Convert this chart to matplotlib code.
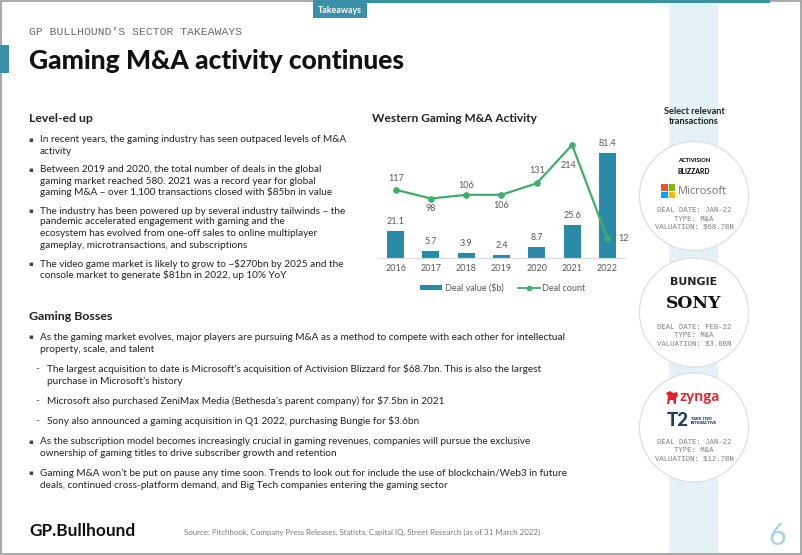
import matplotlib
matplotlib.use('Agg')
import matplotlib.pyplot as plt
from matplotlib.patches import Rectangle, Circle, Patch, Polygon
from matplotlib.lines import Line2D

# ---------------- data ----------------
years = ['2016', '2017', '2018', '2019', '2020', '2021', '2022']
deal_value = [21.1, 5.7, 3.9, 2.4, 8.7, 25.6, 81.4]
deal_count = [117, 98, 106, 106, 131, 214, 12]
series_names = ['Deal value ($b)', 'Deal count']

deal_dates = ['JAN-22', 'FEB-22', 'JAN-22']
deal_types = ['M&A', 'M&A', 'M&A']
deal_valuations = ['$68.7BN', '$3.6BN', '$12.7BN']

levelup_lines = [
    ('b', 'In recent years, the gaming industry has seen outpaced levels of M&A'),
    ('c', 'activity'),
    ('b', 'Between 2019 and 2020, the total number of deals in the global'),
    ('c', 'gaming market reached 580. 2021 was a record year for global'),
    ('c', 'gaming M&A \u2013 over 1,100 transactions closed with $85bn in value'),
    ('b', 'The industry has been powered up by several industry tailwinds \u2013 the'),
    ('c', 'pandemic accelerated engagement with gaming and the'),
    ('c', 'ecosystem has evolved from one-off sales to online multiplayer'),
    ('c', 'gameplay, microtransactions, and subscriptions'),
    ('b', 'The video game market is likely to grow to ~$270bn by 2025 and the'),
    ('c', 'console market to generate $81bn in 2022, up 10% YoY'),
]
levelup_y = [140, 151, 170, 181, 192, 211, 222, 233, 245, 264, 275]

bosses_lines = [
    ('b', 'As the gaming market evolves, major players are pursuing M&A as a method to compete with each other for intellectual'),
    ('c', 'property, scale, and talent'),
    ('s', 'The largest acquisition to date is Microsoft\u2019s acquisition of Activision Blizzard for $68.7bn. This is also the largest'),
    ('sc', 'purchase in Microsoft\u2019s history'),
    ('s', 'Microsoft also purchased ZeniMax Media (Bethesda\u2019s parent company) for $7.5bn in 2021'),
    ('s', 'Sony also announced a gaming acquisition in Q1 2022, purchasing Bungie for $3.6bn'),
    ('b', 'As the subscription model becomes increasingly crucial in gaming revenues, companies will pursue the exclusive'),
    ('c', 'ownership of gaming titles to drive subscriber growth and retention'),
    ('b', 'Gaming M&A won\u2019t be put on pause any time soon. Trends to look out for include the use of blockchain/Web3 in future'),
    ('c', 'deals, continued cross-platform demand, and Big Tech companies entering the gaming sector'),
]
bosses_y = [337, 349, 369, 381, 401, 421, 442, 454, 473, 485]

# ---------------- styles ----------------
W, H = 802, 555
TEAL = '#2b8aa7'
TAB = '#3a8fa9'
GREEN = '#3fae6c'
STRIP = '#e4f1f6'
TXT = '#222222'
GRAY = '#595959'
FONT = 'Lato'

fig = plt.figure(figsize=(W / 100, H / 100), dpi=100)
bg = fig.add_axes([0, 0, 1, 1])
bg.set_xlim(0, W)
bg.set_ylim(H, 0)
bg.axis('off')
renderer = fig.canvas.get_renderer()


def fit(t, width):
    bb = t.get_window_extent(renderer)
    t.set_fontsize(t.get_fontsize() * width / bb.width)
    return t.get_fontsize()


# frame / decorations
bg.add_patch(Rectangle((669, 0), 49, H, facecolor=STRIP, edgecolor='none', zorder=0))
bg.add_patch(Rectangle((0.8, 0.8), W - 1.6, H - 1.6, facecolor='none', edgecolor='#9a9a9a', lw=1.2, zorder=5))
bg.add_patch(Rectangle((313, 0), 457, 3, facecolor=TAB, edgecolor='none', zorder=6))
bg.add_patch(Rectangle((313, 0), 54, 18, facecolor=TAB, edgecolor='none', zorder=6))
t = bg.text(340, 10.5, 'Takeaways', color='white', fontsize=6.5, fontweight='bold',
            family=FONT, ha='center', va='center', zorder=7)
fit(t, 44)
bg.add_patch(Rectangle((0, 45), 9, 28, facecolor=TAB, edgecolor='none', zorder=6))

t = bg.text(29, 32, 'GP BULLHOUND\u2019S SECTOR TAKEAWAYS', family=['Liberation Mono', 'DejaVu Sans Mono'],
            color='#6b6b6b', fontsize=8, ha='left', va='center')
fit(t, 210)
t = bg.text(29, 61, 'Gaming M&A activity continues', family=FONT, fontweight='black',
            color='#111111', fontsize=20, ha='left', va='center')
fit(t, 376)

# left text blocks
t = bg.text(29, 118, 'Level-ed up', family=FONT, fontweight='bold', color=TXT, fontsize=9,
            ha='left', va='center')
fit(t, 64)
t = bg.text(29, 317, 'Gaming Bosses', family=FONT, fontweight='bold', color=TXT, fontsize=9,
            ha='left', va='center')
fit(t, 83)

probe = bg.text(40, 0, levelup_lines[0][1], family=FONT, fontsize=7)
fs1 = fit(probe, 312)
probe.remove()
probe = bg.text(40, 0, bosses_lines[0][1], family=FONT, fontsize=7)
fs2 = fit(probe, 508)
probe.remove()
fs_body = (fs1 + fs2) / 2


def draw_block(lines, ys, fs):
    for (kind, s), y in zip(lines, ys):
        if kind == 'b':
            bg.text(31, y, '\u25aa', family='DejaVu Sans', fontsize=fs * 0.7, color='#444444',
                    ha='center', va='center')
        if kind == 's':
            bg.text(37, y, '-', family=FONT, fontsize=fs, color='#444444', ha='center', va='center')
        x = 47 if kind in ('s', 'sc') else 40
        bg.text(x, y, s, family=FONT, fontsize=fs, color=TXT, ha='left', va='center')


draw_block(levelup_lines, levelup_y, fs_body)
draw_block(bosses_lines, bosses_y, fs_body)

# footer
t = bg.text(29, 531, 'GP.Bullhound', family=FONT, fontweight='bold', color='#111111', fontsize=11,
            ha='left', va='center')
fit(t, 106)
t = bg.text(184, 532, 'Source: Pitchbook, Company Press Releases, Statista, Capital IQ, Street Research (as of 31 March 2022)',
            family=FONT, color='#7a7a7a', fontsize=5, ha='left', va='center')
fit(t, 363)
bg.text(777, 536, '6', family=FONT, color='#a9d3e3', fontsize=22, ha='center', va='center', zorder=1)

# ---------------- right panel ----------------
t = bg.text(694, 111, 'Select relevant', family=FONT, fontweight='bold', color=TXT, fontsize=6.5,
            ha='center', va='center')
fit(t, 60)
t.set_zorder(3)
bg.text(694, 121, 'transactions', family=FONT, fontweight='bold', color=TXT, fontsize=t.get_fontsize(),
        ha='center', va='center', zorder=3)

centers = [196, 312.5, 427.5]
for cy in centers:
    bg.add_patch(Circle((694, cy), 54.5, facecolor='white', edgecolor='#dcdcdc', lw=0.8, zorder=2))

MONO = ['Liberation Mono', 'DejaVu Sans Mono']
for cy, d, ty, v in zip(centers, deal_dates, deal_types, deal_valuations):
    base = cy + 15
    for k, s in enumerate(['DEAL DATE: ' + d, 'TYPE: ' + ty, 'VALUATION: ' + v]):
        bg.text(694, base + 8.2 * k, s, family=MONO, fontsize=5.3, color='#808080',
                ha='center', va='center', zorder=3)

# logo 1: Activision Blizzard + Microsoft
t = bg.text(694, 161, 'ACTIVISION', family=FONT, fontweight='black', color='#111111',
            fontsize=5, ha='center', va='center', zorder=3)
fit(t, 33)
t = bg.text(694, 171, 'BLIZZARD', family=FONT, fontweight='black', color='#111111',
            fontsize=7, ha='center', va='center', zorder=3)
fit(t, 33)
for (dx, dy, c) in [(0, 0, '#f25022'), (7.5, 0, '#7fba00'), (0, 7.5, '#00a4ef'), (7.5, 7.5, '#ffb900')]:
    bg.add_patch(Rectangle((661 + dx, 184 + dy), 6.8, 6.8, facecolor=c, edgecolor='none', zorder=3))
t = bg.text(678, 191.5, 'Microsoft', family=['Open Sans', FONT], color='#737373', fontsize=9,
            ha='left', va='center', zorder=3)
fit(t, 49)

# logo 2: Bungie + Sony
t = bg.text(694, 282, 'BUNGIE', family='DejaVu Sans', fontweight='bold', color='#222222', fontsize=8,
            ha='center', va='center', zorder=3)
fit(t, 47)
t = bg.text(694, 304, 'SONY', family=['DejaVu Serif', 'Liberation Serif'], fontweight='bold',
            color='#111111', fontsize=12, ha='center', va='center', zorder=3)
fit(t, 55)

# logo 3: Zynga + Take-Two
bg.add_patch(Polygon([(667, 404), (668, 396), (666, 393), (670, 391), (673, 393), (677, 392),
                      (678, 396), (676, 398), (676, 404), (674, 404), (673, 400), (670, 400),
                      (669, 404)], closed=True, facecolor='#e1232e', edgecolor='none', zorder=3))
t = bg.text(680, 397, 'zynga', family=FONT, fontweight='bold', color='#e1232e', fontsize=10,
            ha='left', va='center', zorder=3)
fit(t, 40)
t = bg.text(667, 421, 'T2', family=FONT, fontweight='black', color='#1d3b6e', fontsize=14,
            ha='left', va='center', zorder=3)
fit(t, 22)
bg.text(691, 418.5, 'TAKE TWO', family='DejaVu Sans', fontweight='bold', color='#1d3b6e',
        fontsize=2.6, ha='left', va='center', zorder=3)
bg.text(691, 423, 'INTERACTIVE', family='DejaVu Sans', fontweight='bold', color='#1d3b6e',
        fontsize=2.6, ha='left', va='center', zorder=3)

# ---------------- chart ----------------
t = bg.text(372, 119, 'Western Gaming M&A Activity', family=FONT, fontweight='bold', color=TXT,
            fontsize=8.5, ha='left', va='center')
fit(t, 164)

base_y, top_y = 258, 133
ax = fig.add_axes([378 / W, (H - base_y) / H, 247 / W, (base_y - top_y) / H])
ax.patch.set_alpha(0)
x = list(range(len(years)))
ax.bar(x, deal_value, width=0.48, color=TEAL, zorder=2)
plot_h = base_y - top_y
ax.set_ylim(0, plot_h / 1.29)
ax.set_xlim(-0.5, 6.5)
ax.set_xticks(x)
ax.set_xticklabels(years, family=FONT, fontsize=6.5, color=GRAY)
ax.tick_params(axis='x', length=0, pad=4)
ax.set_yticks([])
for s in ['top', 'left', 'right']:
    ax.spines[s].set_visible(False)
ax.spines['bottom'].set_color('#d9d9d9')
ax.spines['bottom'].set_linewidth(0.8)
for i, v in enumerate(deal_value):
    ax.annotate(f'{v}', (i, v), xytext=(0, 6.5), textcoords='offset points', ha='center',
                va='center', family=FONT, fontsize=6.5, color=GRAY)

ax2 = ax.twinx()
ax2.patch.set_alpha(0)
ax2.plot(x, deal_count, color=GREEN, lw=1.6, marker='o', ms=3.8, zorder=3, clip_on=False)
ax2.set_ylim(-14.2 / 0.462, (plot_h - 14.2) / 0.462)
ax2.set_yticks([])
for s in ['top', 'left', 'right', 'bottom']:
    ax2.spines[s].set_visible(False)
label_offsets = {0: (0, 8), 1: (0, -7.5), 2: (0, 7), 3: (0, -7.5), 4: (0, 9.5), 5: (-2.5, -15), 6: (8, 0)}
for i, v in enumerate(deal_count):
    dx, dy = label_offsets[i]
    ax2.annotate(f'{v}', (i, v), xytext=(dx, dy), textcoords='offset points',
                 ha='left' if dx > 0 else 'center', va='center', family=FONT, fontsize=6.5,
                 color=GRAY, annotation_clip=False)

handles = [Patch(facecolor=TEAL, edgecolor='none'),
           Line2D([], [], color=GREEN, lw=1.3, marker='o', ms=3)]
fig.legend(handles, series_names, loc='center', bbox_to_anchor=(503 / W, 1 - 288 / H),
           bbox_transform=fig.transFigure, ncol=2, frameon=False, handlelength=2.4,
           handleheight=0.5, columnspacing=1.6, handletextpad=0.3,
           prop={'family': FONT, 'size': 6.5}, labelcolor=GRAY)

fig.savefig('out.png', dpi=100)
